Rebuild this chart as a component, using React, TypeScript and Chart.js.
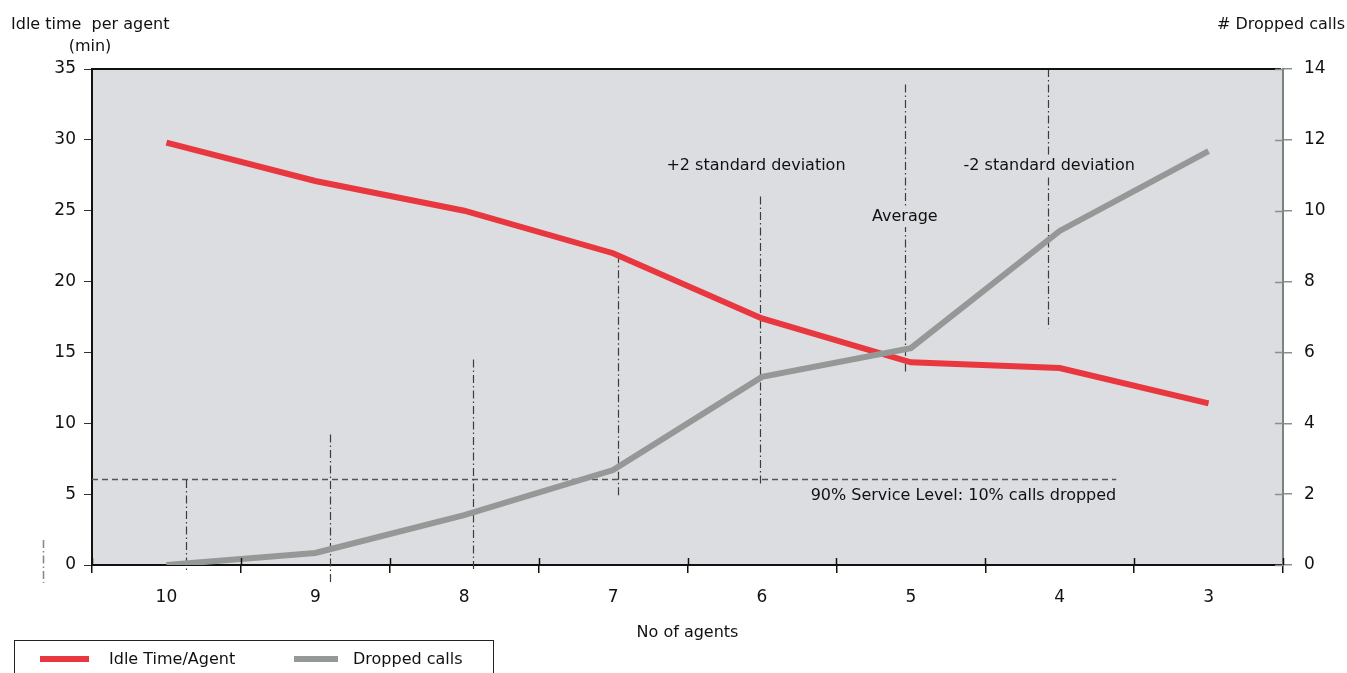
import React, { useEffect, useRef } from "react";
import { Chart, registerables } from "chart.js";

Chart.register(...registerables);

// ---- data ----
const agentCounts = ["10", "9", "8", "7", "6", "5", "4", "3"];
const idleTimePerAgent = [29.8, 27.1, 25.0, 22.0, 17.4, 14.3, 13.9, 11.4];
const droppedCalls = [0, 0.34, 1.41, 2.68, 5.31, 6.12, 9.43, 11.68];

const idleAxisMax = 35;
const idleAxisStep = 5;
const droppedAxisMax = 14;
const droppedAxisStep = 2;

// dash-dot reference lines: position in category index, top/bottom in idle-time units
const refLinePos = [-0.83, 0.13, 1.1, 2.06, 3.03, 3.99, 4.96, 5.92];
const refLineTop = [1.76, 6.0, 9.2, 14.5, 21.9, 26.0, 33.9, 35];
const refLineBottom = [-1.27, -0.35, -1.4, -0.35, 4.9, 5.6, 13.6, 16.7];

// service level threshold (idle-time units) and its extent (category index)
const serviceLevelValue = 6.07;
const serviceLevelEnd = 6.38;
const serviceLevelLabel = "90% Service Level: 10% calls dropped";
const serviceLabelValue = 4.87;

const noteLabels = ["+2 standard deviation", "Average", "-2 standard deviation"];
const notePos = [3.96, 4.96, 5.93];
const noteValue = [28.2, 24.55, 28.2];

const seriesNames = ["Idle Time/Agent", "Dropped calls"];

// ---- styles ----
const FONT = '"DejaVu Sans", sans-serif';
const TEXT = "#111";
const PLOT_BG = "#dcdde0";
const RED = "#e8373f";
const GREY = "#949998";

const decorPlugin = {
  id: "decor",
  beforeDraw(chart: any) {
    const { ctx, chartArea: a } = chart;
    ctx.save();
    ctx.fillStyle = PLOT_BG;
    ctx.fillRect(a.left, a.top, a.right - a.left, a.bottom - a.top);
    ctx.restore();
  },
  beforeDatasetsDraw(chart: any) {
    const { ctx, scales } = chart;
    const x = scales.x;
    const y = scales.y;
    ctx.save();
    // service level dashed line
    ctx.strokeStyle = "#555";
    ctx.lineWidth = 1.3;
    ctx.setLineDash([6, 4]);
    const sy = Math.round(y.getPixelForValue(serviceLevelValue)) + 0.5;
    ctx.beginPath();
    ctx.moveTo(x.getPixelForValue(-0.5), sy);
    ctx.lineTo(x.getPixelForValue(serviceLevelEnd), sy);
    ctx.stroke();
    // dash-dot reference lines
    ctx.setLineDash([8, 3, 1.5, 3]);
    for (let i = 0; i < refLinePos.length; i++) {
      const px = Math.round(x.getPixelForValue(refLinePos[i])) + 0.5;
      ctx.strokeStyle = i === 0 ? "#8a8a8a" : "#3c3c3c";
      ctx.lineWidth = i === 0 ? 1.6 : 1.2;
      ctx.beginPath();
      ctx.moveTo(px, y.getPixelForValue(refLineTop[i]));
      ctx.lineTo(px, y.getPixelForValue(refLineBottom[i]));
      ctx.stroke();
    }
    ctx.setLineDash([]);
    // notes
    ctx.font = `16px ${FONT}`;
    ctx.textBaseline = "middle";
    for (let i = 0; i < noteLabels.length; i++) {
      const cx = x.getPixelForValue(notePos[i]);
      const cy = y.getPixelForValue(noteValue[i]);
      const w = ctx.measureText(noteLabels[i]).width;
      ctx.fillStyle = PLOT_BG;
      ctx.fillRect(cx - w / 2 - 2, cy - 10, w + 4, 20);
      ctx.fillStyle = TEXT;
      ctx.textAlign = "center";
      ctx.fillText(noteLabels[i], cx, cy);
    }
    ctx.textAlign = "right";
    ctx.fillStyle = TEXT;
    ctx.fillText(
      serviceLevelLabel,
      x.getPixelForValue(serviceLevelEnd),
      y.getPixelForValue(serviceLabelValue)
    );
    ctx.restore();
  },
  afterDraw(chart: any) {
    const { ctx, chartArea: a, scales } = chart;
    const x = scales.x;
    const y1 = scales.y1;
    ctx.save();
    // top frame line
    ctx.strokeStyle = "#111";
    ctx.lineWidth = 2;
    ctx.beginPath();
    ctx.moveTo(a.left - 1, a.top);
    ctx.lineTo(a.right - 2, a.top);
    ctx.stroke();
    // inner parts of crossing tick marks
    ctx.lineWidth = 1.5;
    for (let i = 0; i <= agentCounts.length; i++) {
      const px = Math.round(x.getPixelForValue(i - 0.5)) + 0.5;
      ctx.beginPath();
      ctx.moveTo(px, a.bottom);
      ctx.lineTo(px, a.bottom - 7);
      ctx.stroke();
    }
    ctx.strokeStyle = "#8a8f90";
    for (let v = 0; v <= droppedAxisMax; v += droppedAxisStep) {
      const py = Math.round(y1.getPixelForValue(v)) + 0.5;
      ctx.beginPath();
      ctx.moveTo(a.right, py);
      ctx.lineTo(a.right - 8, py);
      ctx.stroke();
    }
    // axis titles
    ctx.fillStyle = TEXT;
    ctx.font = `16px ${FONT}`;
    ctx.textBaseline = "middle";
    ctx.textAlign = "left";
    ctx.fillText("Idle time  per agent", 11, 25);
    ctx.textAlign = "center";
    ctx.fillText("(min)", 90, 47);
    ctx.textAlign = "right";
    ctx.fillText("# Dropped calls", 1345, 25);
    ctx.textAlign = "center";
    ctx.fillText("No of agents", (a.left + a.right) / 2, 633);
    ctx.restore();
  },
};

export default function App() {
  const canvasRef = useRef<HTMLCanvasElement | null>(null);

  useEffect(() => {
    const canvas = canvasRef.current;
    if (!canvas) return;
    const chart = new Chart(canvas, {
      type: "line",
      data: {
        labels: agentCounts,
        datasets: [
          {
            label: seriesNames[0],
            data: idleTimePerAgent,
            yAxisID: "y",
            borderColor: RED,
            backgroundColor: RED,
            borderWidth: 6,
            pointRadius: 0,
            tension: 0,
            borderCapStyle: "butt",
            borderJoinStyle: "miter",
            order: 2,
          },
          {
            label: seriesNames[1],
            data: droppedCalls,
            yAxisID: "y1",
            borderColor: GREY,
            backgroundColor: GREY,
            borderWidth: 6,
            pointRadius: 0,
            tension: 0,
            borderCapStyle: "butt",
            borderJoinStyle: "miter",
            order: 1,
          },
        ],
      },
      options: {
        animation: false,
        responsive: false,
        maintainAspectRatio: false,
        layout: { padding: { top: 69, left: 0, right: 0, bottom: 0 } },
        plugins: {
          legend: { display: false },
          tooltip: { enabled: false },
          title: { display: false },
        },
        scales: {
          x: {
            type: "category",
            offset: true,
            grid: {
              offset: true,
              drawOnChartArea: false,
              drawTicks: true,
              tickLength: 8,
              color: "#111",
              lineWidth: 1.5,
            },
            border: { display: true, color: "#111", width: 2 },
            ticks: {
              padding: 14,
              color: TEXT,
              font: { family: FONT, size: 17 },
              maxRotation: 0,
              autoSkip: false,
            },
            afterFit: (s: any) => {
              s.height = 108;
            },
          },
          y: {
            position: "left",
            min: 0,
            max: idleAxisMax,
            ticks: {
              stepSize: idleAxisStep,
              padding: 8,
              color: TEXT,
              font: { family: FONT, size: 17 },
            },
            grid: { drawOnChartArea: false, tickLength: 8, color: "#333", lineWidth: 1 },
            border: { display: true, color: "#111", width: 2 },
            afterFit: (s: any) => {
              s.width = 92;
            },
          },
          y1: {
            position: "right",
            min: 0,
            max: droppedAxisMax,
            ticks: {
              stepSize: droppedAxisStep,
              padding: 12,
              color: TEXT,
              font: { family: FONT, size: 17 },
            },
            grid: { drawOnChartArea: false, tickLength: 9, color: "#8a8f90", lineWidth: 1.5 },
            border: { display: true, color: "#7d8283", width: 2 },
            afterFit: (s: any) => {
              s.width = 64;
            },
          },
        },
      },
      plugins: [decorPlugin],
    });
    return () => chart.destroy();
  }, []);

  return (
    <div
      style={{
        position: "fixed",
        left: 0,
        top: 0,
        width: 1347,
        height: 673,
        overflow: "hidden",
        background: "#fff",
        fontFamily: FONT,
      }}
    >
      <canvas
        ref={canvasRef}
        width={1347}
        height={673}
        style={{ position: "absolute", left: 0, top: 0, width: 1347, height: 673 }}
      />
      <div
        style={{
          position: "absolute",
          left: 14,
          top: 640,
          width: 480,
          height: 50,
          border: "1.5px solid #222",
          boxSizing: "border-box",
        }}
      >
        <div style={{ position: "absolute", left: 25, top: 15, width: 49, height: 6, background: RED }} />
        <div
          style={{
            position: "absolute",
            left: 94,
            top: 8,
            fontSize: 16,
            lineHeight: "20px",
            color: TEXT,
            whiteSpace: "nowrap",
          }}
        >
          {seriesNames[0]}
        </div>
        <div style={{ position: "absolute", left: 279, top: 15, width: 44, height: 6, background: GREY }} />
        <div
          style={{
            position: "absolute",
            left: 338,
            top: 8,
            fontSize: 16,
            lineHeight: "20px",
            color: TEXT,
            whiteSpace: "nowrap",
          }}
        >
          {seriesNames[1]}
        </div>
      </div>
    </div>
  );
}
